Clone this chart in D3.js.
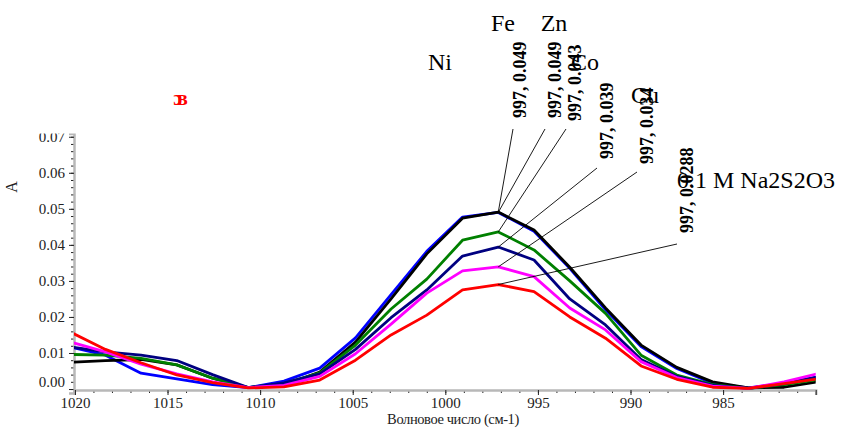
<!DOCTYPE html>
<html>
<head>
<meta charset="utf-8">
<script src="https://cdn.jsdelivr.net/npm/d3@7"></script>
<style>
  body { margin: 0; background: #fff; }
  svg { display: block; font-family: "Liberation Serif", "DejaVu Serif", serif; }
</style>
</head>
<body>
<svg id="chart" width="845" height="428"></svg>
<script>
// wavenumbers (cm-1) of the spectrum points
var wavenumbers = [1020.28, 1018.35, 1016.43, 1014.50, 1012.57, 1010.64, 1008.71, 1006.78, 1004.85, 1002.93, 1001.00,
                   999.07, 997.14, 995.21, 993.28, 991.35, 989.43, 987.50, 985.57, 983.64, 981.71, 979.78];

var absBlue    = [0.0117, 0.0094, 0.0044, 0.0028, 0.0012, 0.0004, 0.0022, 0.0058, 0.0142, 0.0262, 0.0382,
                  0.0477, 0.0490, 0.0438, 0.0335, 0.0220, 0.0118, 0.0057, 0.0016, 0.0003, 0.0016, 0.0035];
var absBlack   = [0.0074, 0.0079, 0.0082, 0.0067, 0.0030, 0.0004, 0.0011, 0.0047, 0.0130, 0.0250, 0.0375,
                  0.0474, 0.0491, 0.0441, 0.0338, 0.0225, 0.0122, 0.0060, 0.0020, 0.0003, 0.0005, 0.0021];
var absGreen   = [0.0096, 0.0094, 0.0085, 0.0067, 0.0030, 0.0004, 0.0015, 0.0045, 0.0122, 0.0222, 0.0305,
                  0.0413, 0.0436, 0.0386, 0.0300, 0.0210, 0.0094, 0.0039, 0.0012, 0.0002, 0.0012, 0.0027];
var absNavy    = [0.0117, 0.0103, 0.0094, 0.0079, 0.0040, 0.0004, 0.0017, 0.0042, 0.0110, 0.0198, 0.0275,
                  0.0369, 0.0394, 0.0358, 0.0250, 0.0178, 0.0082, 0.0035, 0.0010, 0.0002, 0.0015, 0.0034];
var absMagenta = [0.0131, 0.0103, 0.0069, 0.0042, 0.0020, 0.0004, 0.0010, 0.0035, 0.0098, 0.0180, 0.0266,
                  0.0328, 0.0339, 0.0312, 0.0225, 0.0164, 0.0076, 0.0032, 0.0008, 0.0002, 0.0020, 0.0044];
var absRed     = [0.0159, 0.0110, 0.0073, 0.0039, 0.0018, 0.0003, 0.0006, 0.0025, 0.0080, 0.0150, 0.0205,
                  0.0275, 0.0290, 0.0270, 0.0200, 0.0141, 0.0064, 0.0027, 0.0005, 0.0002, 0.0015, 0.0029];

// peak annotations, one per series
var peakLabels = ["997, 0.049", "997, 0.049", "997, 0.043", "997, 0.039", "997, 0.034", "997, 0.0288"];
var peakValues = [0.0491, 0.0490, 0.0436, 0.0394, 0.0339, 0.0290];
var peakWave = 997.14;

// sample names written above the plot
var sampleNames = ["Ni", "Fe", "Zn", "Co", "Cu", "0.1 M Na2S2O3"];

var xTicks = [1020, 1015, 1010, 1005, 1000, 995, 990, 985, 980];
var yTicks = [0, 0.01, 0.02, 0.03, 0.04, 0.05, 0.06, 0.07];

(function() {
    "use strict";
    var series = [
        {values: absBlue, color: "#0000ff"},
        {values: absBlack, color: "#000000"},
        {values: absGreen, color: "#008000"},
        {values: absNavy, color: "#000080"},
        {values: absMagenta, color: "#ff00ff"},
        {values: absRed, color: "#ff0000"}
    ];

    var svg = d3.select("#chart");

    var pLeft = 74, pRight = 815.7, pTop = 133.5, pBottom = 393, xAxisY = 390;

    var x = d3.scaleLinear().domain([1020.05, 980]).range([pLeft, pRight]);
    var y = d3.scaleLinear().domain([-0.0011, 0.0709]).range([pBottom, pTop]);

    var defs = svg.append("defs");
    defs.append("clipPath").attr("id", "plotclip")
        .append("rect").attr("x", pLeft).attr("y", pTop).attr("width", pRight - pLeft).attr("height", pBottom - pTop);
    defs.append("clipPath").attr("id", "axisclip")
        .append("rect").attr("x", 0).attr("y", pTop).attr("width", 845).attr("height", 428 - pTop);

    // ---- axes
    var axes = svg.append("g").attr("clip-path", "url(#axisclip)");

    var yMinor = d3.range(0, 0.0711, 0.002);
    axes.append("g").attr("class", "yminor")
        .attr("transform", "translate(" + pLeft + ",0)")
        .call(d3.axisLeft(y).tickValues(yMinor).tickSize(3).tickFormat(""));
    var yAxis = axes.append("g").attr("class", "yaxis")
        .attr("transform", "translate(" + pLeft + ",0)")
        .call(d3.axisLeft(y).tickValues(yTicks).tickSize(5).tickPadding(4).tickFormat(d3.format(".2f")));
    // the zero label sits a little above its tick in the original
    yAxis.selectAll(".tick").filter(function(d) { return d === 0; })
        .select("text").attr("dy", "-0.15em");

    var xMinor = d3.range(980, 1021, 1);
    axes.append("g").attr("class", "xminor")
        .attr("transform", "translate(0," + xAxisY + ")")
        .call(d3.axisBottom(x).tickValues(xMinor).tickSize(3).tickFormat(""));
    axes.append("g").attr("class", "xaxis")
        .attr("transform", "translate(0," + xAxisY + ")")
        .call(d3.axisBottom(x).tickValues(xTicks).tickSize(5).tickPadding(2)
            .tickFormat(function(d) { return d === 980 ? "" : d; }));

    axes.selectAll(".yminor .domain, .xminor .domain").remove();
    axes.selectAll(".domain").attr("stroke", "#b8b8b8").attr("stroke-width", 2.5);
    axes.selectAll(".tick line").attr("stroke", "#222").attr("stroke-width", 1);
    axes.selectAll(".tick text").attr("font-family", "Liberation Serif, serif").attr("font-size", 15).attr("fill", "#222");

    svg.append("text")
        .attr("transform", "translate(17,187) rotate(-90)")
        .attr("text-anchor", "middle")
        .attr("font-size", 16)
        .attr("fill", "#222")
        .text("A");

    svg.append("text")
        .attr("x", 453).attr("y", 424)
        .attr("text-anchor", "middle")
        .attr("font-size", 14.5)
        .attr("letter-spacing", "-0.4")
        .attr("fill", "#222")
        .text("Волновое число (см-1)");

    // ---- spectra
    var line = d3.line()
        .x(function(d, i) { return x(wavenumbers[i]); })
        .y(function(d) { return y(d); });

    var plot = svg.append("g").attr("clip-path", "url(#plotclip)");
    series.forEach(function(s) {
        plot.append("path")
            .attr("d", line(s.values))
            .attr("fill", "none")
            .attr("stroke", s.color)
            .attr("stroke-width", 2.8)
            .attr("stroke-linejoin", "round");
    });

    // ---- peak annotations: rotated text + leader line
    // text x (baseline centre), text bottom y, leader start
    var annLayout = [
        {tx: 520, ty: 118, lx: 513, ly: 129},
        {tx: 555, ty: 118, lx: 545, ly: 129},
        {tx: 575, ty: 121, lx: 566, ly: 129},
        {tx: 607, ty: 159, lx: 597, ly: 168},
        {tx: 647, ty: 164, lx: 637, ly: 172},
        {tx: 687, ty: 233, lx: 677, ly: 244}
    ];
    var ann = svg.append("g");
    peakLabels.forEach(function(lbl, i) {
        var a = annLayout[i];
        ann.append("line")
            .attr("x1", a.lx).attr("y1", a.ly)
            .attr("x2", x(peakWave)).attr("y2", y(peakValues[i]))
            .attr("stroke", "#000").attr("stroke-width", 0.9);
        ann.append("text")
            .attr("transform", "translate(" + a.tx + "," + a.ty + ") rotate(-90)")
            .attr("dy", "0.35em")
            .attr("font-size", 18)
            .attr("font-weight", "bold")
            .attr("fill", "#000")
            .text(lbl);
    });

    // ---- sample names
    var nameLayout = [
        {x: 440, y: 70, anchor: "middle"},
        {x: 503, y: 31, anchor: "middle"},
        {x: 554, y: 31, anchor: "middle"},
        {x: 585, y: 70, anchor: "middle"},
        {x: 645, y: 103, anchor: "middle"},
        {x: 677, y: 188, anchor: "start"}
    ];
    sampleNames.forEach(function(n, i) {
        svg.append("text")
            .attr("x", nameLayout[i].x).attr("y", nameLayout[i].y)
            .attr("text-anchor", nameLayout[i].anchor)
            .attr("font-size", 24)
            .attr("fill", "#000")
            .text(n);
    });

    // red panel mark
    svg.append("text")
        .attr("x", 178).attr("y", 105)
        .attr("text-anchor", "middle")
        .attr("font-size", 20)
        .attr("font-weight", "bold")
        .attr("letter-spacing", "-5")
        .attr("fill", "#ff0000")
        .text("ɔв");
})();
</script>
</body>
</html>
